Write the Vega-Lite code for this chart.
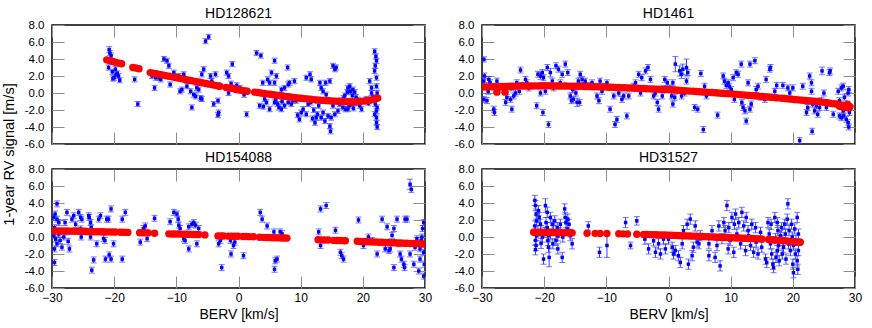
{
"$schema":"https://vega.github.io/schema/vega-lite/v6.json",
"padding":{"left":0,"top":6,"right":10,"bottom":5},
"bounds":"flush",
"columns":2,
"spacing":{"row":25,"column":57},
"config":{
 "view":{"stroke":"#000","strokeWidth":1.5},
 "axis":{"domain":false,"grid":false,"tickColor":"#8c8c8c","tickSize":-12,"tickWidth":1,"labelFont":"Liberation Sans","labelColor":"#000","titleFont":"Liberation Sans","titleFontSize":14,"titleFontWeight":"normal","titleColor":"#000","labelPadding":20,"labelFlush":false,"labelOverlap":false},
 "axisX":{"labelFontSize":12,"labelPadding":16},
 "axisY":{"labelFontSize":11.5},
 "title":{"font":"Liberation Sans","fontSize":14,"fontWeight":"normal","color":"#000","anchor":"middle","offset":-2}
},
"datasets":{
"b1":[{"x":-20.9,"y":3.0,"e":0.3},{"x":-20.8,"y":5.1,"e":0.35},{"x":-20.7,"y":4.7,"e":0.3},{"x":-20.5,"y":4.4,"e":0.3},{"x":-20.3,"y":2.5,"e":0.3},{"x":-20.2,"y":1.7,"e":0.3},{"x":-20.0,"y":1.8,"e":0.3},{"x":-19.8,"y":2.8,"e":0.3},{"x":-19.7,"y":2.2,"e":0.3},{"x":-19.5,"y":2.3,"e":0.3},{"x":-19.3,"y":2.0,"e":0.3},{"x":-19.1,"y":1.5,"e":0.3},
{"x":-16.7,"y":1.6,"e":0.3},{"x":-16.2,"y":-1.3,"e":0.3},{"x":-13.5,"y":0.6,"e":0.3},{"x":-13.9,"y":2.0,"e":0.3},{"x":-13.3,"y":1.8,"e":0.3},{"x":-12.5,"y":1.6,"e":0.3},
{"x":-12.8,"y":1.8,"e":0.3},{"x":-12.0,"y":4.0,"e":0.3},{"x":-11.5,"y":3.8,"e":0.3},{"x":-11.2,"y":3.2,"e":0.3},{"x":-11.0,"y":1.0,"e":0.3},{"x":-10.4,"y":2.4,"e":0.3},{"x":-9.6,"y":2.0,"e":0.3},{"x":-9.4,"y":0.2,"e":0.3},{"x":-9.1,"y":0.4,"e":0.3},{"x":-8.8,"y":2.2,"e":0.3},{"x":-8.3,"y":0.8,"e":0.3},{"x":-8.0,"y":1.4,"e":0.3},{"x":-7.7,"y":0.2,"e":0.3},{"x":-7.5,"y":-1.7,"e":0.3},{"x":-7.2,"y":-0.2,"e":0.3},{"x":-6.9,"y":-0.4,"e":0.3},{"x":-6.7,"y":0.6,"e":0.3},{"x":-6.4,"y":0.4,"e":0.3},{"x":-6.1,"y":-0.6,"e":0.3},{"x":-5.9,"y":-0.7,"e":0.3},{"x":-5.6,"y":2.8,"e":0.3},{"x":-5.9,"y":2.2,"e":0.3},{"x":-5.3,"y":6.1,"e":0.3},{"x":-4.8,"y":6.6,"e":0.3},{"x":-4.5,"y":2.0,"e":0.3},{"x":-4.3,"y":1.4,"e":0.3},{"x":-3.7,"y":2.2,"e":0.3},{"x":-4.0,"y":-1.3,"e":0.3},{"x":-3.3,"y":-0.9,"e":0.3},{"x":-3.2,"y":-2.3,"e":0.3},{"x":-3.3,"y":-2.6,"e":0.3},{"x":-1.9,"y":2.4,"e":0.3},{"x":-1.6,"y":2.0,"e":0.3},{"x":-1.6,"y":0.0,"e":0.3},{"x":-1.2,"y":1.1,"e":0.3},{"x":-1.0,"y":3.4,"e":0.3},{"x":-0.3,"y":0.9,"e":0.3},
{"x":0.2,"y":0.6,"e":0.3},{"x":0.9,"y":-0.2,"e":0.3},{"x":1.3,"y":-2.5,"e":0.3},{"x":2.9,"y":4.7,"e":0.3},{"x":3.6,"y":4.4,"e":0.3},{"x":5.8,"y":3.8,"e":0.3},{"x":5.3,"y":2.4,"e":0.3},{"x":4.7,"y":1.6,"e":0.3},{"x":3.9,"y":1.2,"e":0.3},{"x":5.0,"y":1.2,"e":0.3},{"x":5.8,"y":1.2,"e":0.3},{"x":6.1,"y":2.0,"e":0.3},{"x":7.9,"y":3.0,"e":0.3},{"x":8.0,"y":1.0,"e":0.3},{"x":8.2,"y":1.2,"e":0.3},{"x":9.0,"y":1.4,"e":0.3},{"x":6.9,"y":0.4,"e":0.3},{"x":7.4,"y":0.6,"e":0.3},{"x":3.4,"y":-1.5,"e":0.3},{"x":4.2,"y":-0.7,"e":0.3},{"x":4.5,"y":-1.1,"e":0.3},{"x":5.0,"y":-1.9,"e":0.3},{"x":5.8,"y":-1.1,"e":0.3},{"x":6.3,"y":-1.3,"e":0.3},{"x":6.5,"y":-1.7,"e":0.3},{"x":6.9,"y":-1.9,"e":0.3},{"x":7.4,"y":-1.5,"e":0.3},{"x":8.0,"y":-1.1,"e":0.3},{"x":8.5,"y":-1.3,"e":0.3},{"x":8.8,"y":-0.9,"e":0.3},{"x":9.3,"y":-0.9,"e":0.3},{"x":9.8,"y":-3.1,"e":0.3},{"x":10.1,"y":-2.3,"e":0.3},{"x":10.4,"y":-1.9,"e":0.3},{"x":10.9,"y":1.8,"e":0.3},{"x":11.5,"y":2.2,"e":0.3},{"x":11.7,"y":1.6,"e":0.3},{"x":10.9,"y":-2.5,"e":0.3},{"x":11.2,"y":-1.3,"e":0.3},{"x":11.6,"y":-1.1,"e":0.3},{"x":12.3,"y":-3.5,"e":0.3},{"x":12.7,"y":-2.5,"e":0.3},{"x":12.9,"y":-1.5,"e":0.3},{"x":13.1,"y":1.2,"e":0.3},{"x":13.3,"y":0.6,"e":0.3},{"x":13.6,"y":0.2,"e":0.3},{"x":13.6,"y":-2.3,"e":0.3},{"x":13.9,"y":-3.3,"e":0.3},{"x":14.0,"y":1.2,"e":0.3},{"x":14.1,"y":-0.2,"e":0.3},{"x":14.4,"y":-2.7,"e":0.3},{"x":14.7,"y":1.4,"e":0.3},{"x":14.7,"y":-3.9,"e":0.3},{"x":14.8,"y":-4.5,"e":0.3},{"x":14.9,"y":-2.9,"e":0.3},{"x":15.2,"y":3.2,"e":0.3},{"x":15.5,"y":2.8,"e":0.3},{"x":15.7,"y":3.0,"e":0.3},{"x":15.2,"y":-1.5,"e":0.3},{"x":15.5,"y":-2.5,"e":0.3},{"x":16.0,"y":-2.1,"e":0.3},{"x":16.3,"y":-1.3,"e":0.3},{"x":16.5,"y":-0.9,"e":0.3},{"x":16.8,"y":-1.7,"e":0.3},{"x":17.1,"y":-0.3,"e":0.3},{"x":17.2,"y":-1.9,"e":0.3},{"x":17.5,"y":0.1,"e":0.3},{"x":17.6,"y":0.6,"e":0.3},{"x":17.9,"y":0.8,"e":0.3},{"x":18.0,"y":0.2,"e":0.3},{"x":18.2,"y":-1.3,"e":0.3},{"x":18.3,"y":-0.3,"e":0.3},{"x":18.4,"y":0.4,"e":0.3},{"x":18.7,"y":0.1,"e":0.3},{"x":18.9,"y":-0.5,"e":0.3},{"x":18.6,"y":-1.1,"e":0.3},{"x":17.6,"y":-1.9,"e":0.3},{"x":19.5,"y":-1.5,"e":0.3},{"x":19.8,"y":-1.9,"e":0.3},{"x":20.6,"y":-0.7,"e":0.3},{"x":21.1,"y":1.4,"e":0.3},{"x":21.4,"y":0.6,"e":0.3},{"x":21.4,"y":0.0,"e":0.3},{"x":21.6,"y":-0.5,"e":0.3},{"x":21.9,"y":2.6,"e":0.3},{"x":21.9,"y":4.9,"e":0.3},{"x":22.1,"y":4.3,"e":0.3},{"x":22.2,"y":3.8,"e":0.3},{"x":22.0,"y":3.2,"e":0.3},{"x":22.2,"y":1.8,"e":0.3},{"x":22.2,"y":0.8,"e":0.3},{"x":22.3,"y":0.0,"e":0.3},{"x":22.0,"y":-1.3,"e":0.3},{"x":22.2,"y":-2.1,"e":0.3},{"x":22.2,"y":-2.9,"e":0.3},{"x":22.2,"y":-3.5,"e":0.3},{"x":22.3,"y":-4.0,"e":0.3},{"x":22.3,"y":-1.7,"e":0.3},{"x":21.9,"y":-2.5,"e":0.3},
{"x":17.0,"y":-1.0,"e":0.3},{"x":17.8,"y":-1.5,"e":0.3},{"x":18.5,"y":-1.8,"e":0.3},{"x":19.0,"y":-1.2,"e":0.3},{"x":16.9,"y":-0.6,"e":0.3},{"x":19.2,"y":-0.8,"e":0.3},{"x":20.2,"y":-0.9,"e":0.3},{"x":20.9,"y":-1.2,"e":0.3},{"x":12.1,"y":-2.0,"e":0.3},{"x":12.5,"y":-2.9,"e":0.3},{"x":13.3,"y":-2.9,"e":0.3},{"x":11.9,"y":-3.0,"e":0.3},{"x":9.5,"y":-2.6,"e":0.3},{"x":6.0,"y":-0.8,"e":0.3},{"x":7.0,"y":-1.0,"e":0.3},{"x":4.0,"y":-1.6,"e":0.3}],
"r1":[{"x":-21.2,"y":3.9},{"x":-20.7,"y":3.8},{"x":-20.2,"y":3.7},{"x":-19.7,"y":3.6},{"x":-19.2,"y":3.5},{"x":-18.8,"y":3.45},{"x":-17.0,"y":3.0},{"x":-16.5,"y":2.95},{"x":-16.0,"y":2.85},
{"x":-14.2,"y":2.4},{"x":-13.7,"y":2.33},{"x":-13.2,"y":2.26},{"x":-12.7,"y":2.19},{"x":-12.2,"y":2.11},{"x":-11.7,"y":2.04},{"x":-11.2,"y":1.97},{"x":-10.7,"y":1.9},{"x":-10.2,"y":1.83},{"x":-9.7,"y":1.76},{"x":-9.2,"y":1.69},{"x":-8.7,"y":1.61},{"x":-8.2,"y":1.54},{"x":-7.7,"y":1.47},{"x":-7.2,"y":1.4},{"x":-6.7,"y":1.33},{"x":-6.2,"y":1.26},{"x":-5.7,"y":1.19},{"x":-5.2,"y":1.11},{"x":-4.7,"y":1.04},{"x":-4.2,"y":0.97},{"x":-3.7,"y":0.9},{"x":-3.2,"y":0.83},{"x":-3.0,"y":0.8},
{"x":-2.0,"y":0.65},{"x":-1.5,"y":0.6},{"x":-1.0,"y":0.55},{"x":-0.8,"y":0.52},{"x":-0.4,"y":0.42},{"x":0.1,"y":0.36},{"x":0.6,"y":0.3},{"x":1.1,"y":0.24},{"x":1.4,"y":0.2},
{"x":2.6,"y":0.1},{"x":3.1,"y":0.05},{"x":3.6,"y":0.0},{"x":4.1,"y":-0.05},{"x":4.6,"y":-0.1},{"x":5.1,"y":-0.15},{"x":5.6,"y":-0.2},{"x":6.1,"y":-0.25},{"x":6.6,"y":-0.3},{"x":7.1,"y":-0.35},{"x":7.6,"y":-0.4},{"x":8.1,"y":-0.45},{"x":8.6,"y":-0.5},{"x":9.1,"y":-0.54},{"x":9.6,"y":-0.58},{"x":10.1,"y":-0.62},{"x":10.6,"y":-0.66},{"x":11.1,"y":-0.7},{"x":11.6,"y":-0.74},{"x":12.1,"y":-0.78},{"x":12.6,"y":-0.81},{"x":13.1,"y":-0.84},{"x":13.6,"y":-0.87},{"x":14.1,"y":-0.9},{"x":14.6,"y":-0.92},{"x":15.1,"y":-0.94},{"x":15.6,"y":-0.96},{"x":16.1,"y":-0.98},{"x":16.6,"y":-1.0},{"x":17.1,"y":-1.01},{"x":17.6,"y":-1.02},{"x":18.1,"y":-1.02},{"x":18.6,"y":-1.02},{"x":19.1,"y":-1.01},{"x":19.6,"y":-0.99},{"x":20.1,"y":-0.96},{"x":20.6,"y":-0.92},{"x":21.1,"y":-0.86},{"x":21.6,"y":-0.78},{"x":22.0,"y":-0.7},{"x":22.4,"y":-0.6}],
"b2":[{"x":-29.7,"y":3.96,"e":0.3},{"x":-29.6,"y":2.0,"e":0.35},{"x":-29.7,"y":1.4,"e":0.35},{"x":-29.7,"y":-0.75,"e":0.35},{"x":-29.2,"y":-0.9,"e":0.35},{"x":-28.9,"y":1.6,"e":0.35},{"x":-28.7,"y":1.2,"e":0.35},{"x":-29.0,"y":0.2,"e":0.35},{"x":-28.1,"y":-1.9,"e":0.35},{"x":-28.0,"y":-2.3,"e":0.35},{"x":-27.6,"y":1.4,"e":0.35},{"x":-27.3,"y":0.6,"e":0.35},{"x":-26.2,"y":-1.1,"e":0.35},{"x":-26.0,"y":-0.5,"e":0.35},{"x":-25.4,"y":-0.75,"e":0.35},{"x":-25.3,"y":0.6,"e":0.35},{"x":-25.2,"y":-1.9,"e":0.35},{"x":-24.9,"y":-0.35,"e":0.35},{"x":-24.6,"y":0.0,"e":0.35},{"x":-24.4,"y":1.2,"e":0.35},{"x":-24.0,"y":0.2,"e":0.35},{"x":-23.8,"y":2.7,"e":0.35},{"x":-23.6,"y":0.9,"e":0.35},{"x":-23.0,"y":1.6,"e":0.35},{"x":-22.8,"y":1.2,"e":0.35},{"x":-22.5,"y":0.6,"e":0.35},
{"x":-21.2,"y":-1.5,"e":0.35},{"x":-21.0,"y":2.2,"e":0.35},{"x":-20.6,"y":2.0,"e":0.4},{"x":-20.6,"y":0.0,"e":0.35},{"x":-20.3,"y":2.4,"e":0.35},{"x":-20.2,"y":-2.3,"e":0.35},{"x":-20.1,"y":1.8,"e":0.35},{"x":-19.8,"y":0.2,"e":0.35},{"x":-19.5,"y":3.0,"e":0.35},{"x":-19.3,"y":-3.7,"e":0.35},{"x":-19.0,"y":2.4,"e":0.5},{"x":-18.7,"y":1.4,"e":0.35},{"x":-18.5,"y":0.6,"e":0.35},{"x":-18.1,"y":3.2,"e":0.35},{"x":-17.7,"y":2.8,"e":0.35},{"x":-17.4,"y":1.2,"e":0.35},{"x":-17.1,"y":2.2,"e":0.35},{"x":-16.6,"y":3.4,"e":0.35},{"x":-16.2,"y":2.4,"e":0.35},{"x":-15.8,"y":-0.35,"e":0.35},{"x":-15.6,"y":-0.9,"e":0.35},{"x":-15.4,"y":0.4,"e":0.35},{"x":-15.3,"y":-0.75,"e":0.35},{"x":-14.9,"y":0.0,"e":0.35},{"x":-14.7,"y":-1.1,"e":0.5},{"x":-14.3,"y":-1.1,"e":0.35},{"x":-14.5,"y":1.4,"e":0.35},{"x":-14.2,"y":2.2,"e":0.35},{"x":-13.9,"y":1.6,"e":0.35},{"x":-13.6,"y":0.9,"e":0.35},{"x":-13.4,"y":1.4,"e":0.35},{"x":-12.8,"y":0.9,"e":0.35},{"x":-12.3,"y":1.2,"e":0.35},
{"x":-11.5,"y":-0.35,"e":0.35},{"x":-11.2,"y":-0.9,"e":0.35},{"x":-11.0,"y":1.4,"e":0.35},{"x":-10.7,"y":0.2,"e":0.35},{"x":-10.2,"y":0.8,"e":0.35},{"x":-9.9,"y":1.2,"e":0.35},{"x":-9.4,"y":-1.9,"e":0.35},{"x":-8.8,"y":-0.35,"e":0.35},{"x":-8.6,"y":-3.7,"e":0.35},{"x":-8.3,"y":-3.1,"e":0.35},{"x":-8.0,"y":0.0,"e":0.35},{"x":-7.5,"y":-0.75,"e":0.35},{"x":-7.2,"y":-0.35,"e":0.35},{"x":-6.7,"y":-2.7,"e":0.35},{"x":-6.4,"y":-0.35,"e":0.35},{"x":-5.6,"y":0.8,"e":0.35},{"x":-5.3,"y":1.2,"e":0.35},{"x":-4.8,"y":2.2,"e":0.35},{"x":-4.5,"y":0.0,"e":0.35},{"x":-4.3,"y":1.8,"e":0.35},{"x":-3.7,"y":2.6,"e":0.35},{"x":-3.3,"y":3.0,"e":0.35},{"x":-2.9,"y":1.6,"e":0.35},{"x":-2.4,"y":-0.35,"e":0.35},{"x":-2.1,"y":0.0,"e":0.35},{"x":-1.8,"y":-1.1,"e":0.35},{"x":-1.6,"y":-1.9,"e":0.35},{"x":-1.0,"y":-0.35,"e":0.35},{"x":-0.8,"y":0.5,"e":0.35},{"x":-0.6,"y":1.6,"e":0.35},{"x":-0.2,"y":1.2,"e":0.35},
{"x":1.1,"y":3.4,"e":0.9},{"x":0.7,"y":1.2,"e":0.35},{"x":1.8,"y":2.6,"e":0.6},{"x":2.1,"y":2.2,"e":0.5},{"x":2.3,"y":2.8,"e":0.6},{"x":2.9,"y":3.0,"e":1.0},{"x":2.9,"y":1.4,"e":0.35},{"x":3.1,"y":2.4,"e":0.35},{"x":1.0,"y":-0.5,"e":0.35},{"x":2.1,"y":-0.35,"e":0.35},{"x":0.2,"y":0.6,"e":0.35},{"x":0.5,"y":-0.35,"e":0.35},{"x":2.6,"y":0.0,"e":0.35},{"x":0.7,"y":-1.3,"e":0.35},
{"x":5.2,"y":2.3,"e":0.35},{"x":5.8,"y":0.8,"e":0.35},{"x":6.1,"y":-0.35,"e":0.35},{"x":4.2,"y":-1.7,"e":0.35},{"x":4.7,"y":-1.9,"e":0.35},{"x":5.6,"y":-4.3,"e":0.35},{"x":7.9,"y":-2.6,"e":0.35},{"x":8.8,"y":2.0,"e":0.35},{"x":9.0,"y":1.4,"e":0.35},{"x":9.3,"y":0.9,"e":0.35},{"x":9.6,"y":1.2,"e":0.35},{"x":9.8,"y":0.8,"e":0.35},{"x":10.1,"y":0.4,"e":0.35},{"x":10.4,"y":1.8,"e":0.35},{"x":10.6,"y":-0.75,"e":0.35},{"x":10.9,"y":2.4,"e":0.35},{"x":11.2,"y":2.2,"e":0.35},{"x":11.7,"y":3.4,"e":0.35},{"x":11.8,"y":-1.1,"e":0.35},{"x":12.0,"y":-1.7,"e":0.35},{"x":12.3,"y":-2.1,"e":0.35},{"x":12.5,"y":-3.3,"e":0.35},{"x":12.8,"y":1.2,"e":0.35},{"x":13.1,"y":3.4,"e":0.35},{"x":13.1,"y":-1.9,"e":0.35},{"x":13.3,"y":-1.3,"e":0.35},{"x":13.9,"y":3.8,"e":0.35},{"x":14.1,"y":0.4,"e":0.35},{"x":14.4,"y":0.8,"e":0.35},{"x":14.9,"y":-0.5,"e":0.35},{"x":15.5,"y":-0.75,"e":0.35},{"x":15.7,"y":1.6,"e":0.35},{"x":16.3,"y":2.8,"e":0.35},{"x":16.4,"y":3.0,"e":0.35},{"x":17.1,"y":0.2,"e":0.35},{"x":17.4,"y":0.9,"e":0.35},{"x":18.4,"y":0.9,"e":0.35},{"x":19.2,"y":0.6,"e":0.35},{"x":19.5,"y":0.0,"e":0.35},{"x":20.0,"y":0.6,"e":0.35},{"x":21.1,"y":-5.6,"e":0.35},{"x":21.6,"y":0.8,"e":0.35},{"x":21.9,"y":-0.9,"e":0.35},{"x":22.2,"y":-2.3,"e":0.35},{"x":22.4,"y":-1.7,"e":0.35},{"x":22.7,"y":2.0,"e":0.35},{"x":23.0,"y":1.2,"e":0.35},{"x":23.0,"y":0.2,"e":0.35},{"x":23.1,"y":-4.5,"e":0.35},{"x":23.2,"y":-1.3,"e":0.35},{"x":23.5,"y":-2.1,"e":0.35},{"x":23.8,"y":-1.5,"e":0.35},{"x":24.0,"y":-2.5,"e":0.35},{"x":24.3,"y":-1.7,"e":0.35},{"x":24.6,"y":-0.9,"e":0.35},{"x":24.7,"y":2.6,"e":0.45},{"x":25.0,"y":0.0,"e":0.35},{"x":25.4,"y":-1.7,"e":0.35},{"x":25.9,"y":2.4,"e":0.35},{"x":26.5,"y":-2.5,"e":0.35},{"x":27.3,"y":0.2,"e":0.35},{"x":27.5,"y":-0.9,"e":0.35},{"x":27.8,"y":0.6,"e":0.35},{"x":28.1,"y":-2.1,"e":0.35},{"x":28.2,"y":-2.7,"e":0.35},{"x":28.3,"y":-0.5,"e":0.35},{"x":28.6,"y":-3.1,"e":0.35},{"x":28.8,"y":-1.3,"e":0.35},{"x":28.9,"y":0.0,"e":0.35},{"x":28.9,"y":-3.5,"e":0.35},{"x":29.0,"y":0.4,"e":0.35},{"x":29.1,"y":-2.3,"e":0.35},{"x":29.0,"y":-4.0,"e":0.35},{"x":28.1,"y":0.8,"e":0.35},{"x":27.8,"y":-2.9,"e":0.35},{"x":27.5,"y":-2.7,"e":0.35},{"x":26.0,"y":2.6,"e":0.35}],
"r2":[{"x":-30,"y":0.7},{"x":-29.5,"y":0.71},{"x":-29,"y":0.72},{"x":-28.5,"y":0.73},{"x":-28,"y":0.74},{"x":-27.5,"y":0.75},{"x":-27,"y":0.76},{"x":-26.5,"y":0.77},{"x":-26,"y":0.78},{"x":-25.5,"y":0.79},{"x":-25,"y":0.8},{"x":-24.5,"y":0.805},{"x":-24,"y":0.81},{"x":-23.5,"y":0.815},{"x":-23,"y":0.82},{"x":-22.5,"y":0.825},{"x":-22,"y":0.83},{"x":-21.5,"y":0.835},{"x":-21,"y":0.84},{"x":-20.5,"y":0.845},{"x":-20,"y":0.85},{"x":-19.5,"y":0.845},{"x":-19,"y":0.84},{"x":-18.5,"y":0.835},{"x":-18,"y":0.83},{"x":-17.5,"y":0.825},{"x":-17,"y":0.82},{"x":-16.5,"y":0.815},{"x":-16,"y":0.81},{"x":-15.5,"y":0.805},{"x":-15,"y":0.8},{"x":-14.5,"y":0.79},{"x":-14,"y":0.78},{"x":-13.5,"y":0.77},{"x":-13,"y":0.76},{"x":-12.5,"y":0.75},{"x":-12,"y":0.74},{"x":-11.5,"y":0.73},{"x":-11,"y":0.72},{"x":-10.5,"y":0.71},{"x":-10,"y":0.7},{"x":-9.5,"y":0.685},{"x":-9,"y":0.67},{"x":-8.5,"y":0.655},{"x":-8,"y":0.64},{"x":-7.5,"y":0.625},{"x":-7,"y":0.61},{"x":-6.5,"y":0.595},{"x":-6,"y":0.58},{"x":-5.5,"y":0.565},{"x":-5,"y":0.55},{"x":-4.5,"y":0.535},{"x":-4,"y":0.52},{"x":-3.5,"y":0.505},{"x":-3,"y":0.49},{"x":-2.5,"y":0.475},{"x":-2,"y":0.46},{"x":-1.5,"y":0.445},{"x":-1,"y":0.43},{"x":-0.5,"y":0.415},{"x":0,"y":0.4},{"x":0.5,"y":0.375},{"x":1,"y":0.35},{"x":1.5,"y":0.325},{"x":2,"y":0.3},{"x":2.5,"y":0.275},{"x":3,"y":0.25},{"x":3.5,"y":0.225},{"x":4,"y":0.2},{"x":4.5,"y":0.175},{"x":5,"y":0.15},{"x":5.5,"y":0.125},{"x":6,"y":0.1},{"x":6.5,"y":0.075},{"x":7,"y":0.05},{"x":7.5,"y":0.025},{"x":8,"y":0.0},{"x":8.5,"y":-0.025},{"x":9,"y":-0.05},{"x":9.5,"y":-0.075},{"x":10,"y":-0.1},{"x":10.5,"y":-0.13},{"x":11,"y":-0.16},{"x":11.5,"y":-0.19},{"x":12,"y":-0.22},{"x":12.5,"y":-0.25},{"x":13,"y":-0.28},{"x":13.5,"y":-0.31},{"x":14,"y":-0.34},{"x":14.5,"y":-0.37},{"x":15,"y":-0.4},{"x":15.5,"y":-0.435},{"x":16,"y":-0.47},{"x":16.5,"y":-0.505},{"x":17,"y":-0.54},{"x":17.5,"y":-0.575},{"x":18.2,"y":-0.62},{"x":18.7,"y":-0.655},{"x":19.2,"y":-0.69},{"x":19.7,"y":-0.725},{"x":20.2,"y":-0.76},{"x":20.5,"y":-0.78},{"x":21.0,"y":-0.81},{"x":21.5,"y":-0.84},{"x":22,"y":-0.875},{"x":22.5,"y":-0.91},{"x":23,"y":-0.94},{"x":23.5,"y":-0.97},{"x":24,"y":-1.0},{"x":24.5,"y":-1.05},{"x":25,"y":-1.1},{"x":25.5,"y":-1.15},{"x":26,"y":-1.2},{"x":26.5,"y":-1.25},{"x":27,"y":-1.3},{"x":27.5,"y":-1.37},{"x":28,"y":-1.44},{"x":28.5,"y":-1.5},{"x":29,"y":-1.57},{"x":29.2,"y":-1.6},{"x":27.5,"y":-1.55},{"x":28,"y":-1.65},{"x":28.5,"y":-1.7},{"x":29,"y":-1.75},{"x":28.8,"y":-1.35},{"x":-27.6,"y":0.1},{"x":-26.3,"y":0.1}],
"b3":[{"x":-29.2,"y":3.9,"e":0.35},{"x":-29.5,"y":2.7,"e":0.35},{"x":-29.7,"y":2.3,"e":0.35},{"x":-29.2,"y":2.1,"e":0.35},{"x":-28.9,"y":1.7,"e":0.35},{"x":-29.6,"y":1.1,"e":0.35},{"x":-29.7,"y":0.15,"e":0.35},{"x":-29.4,"y":-0.25,"e":0.35},{"x":-29.2,"y":-0.8,"e":0.35},{"x":-29.6,"y":-1.4,"e":0.35},{"x":-29.6,"y":-3.0,"e":0.35},{"x":-28.9,"y":0.35,"e":0.35},{"x":-28.7,"y":-0.4,"e":0.35},{"x":-28.4,"y":-1.2,"e":0.35},{"x":-28.1,"y":0.0,"e":0.35},{"x":-27.9,"y":1.7,"e":0.35},{"x":-27.6,"y":2.9,"e":0.35},{"x":-27.6,"y":0.6,"e":0.35},{"x":-27.4,"y":-0.5,"e":0.35},{"x":-27.2,"y":-1.4,"e":0.35},{"x":-26.8,"y":2.1,"e":0.35},{"x":-26.5,"y":2.5,"e":0.35},{"x":-26.2,"y":1.5,"e":0.35},{"x":-25.7,"y":2.9,"e":0.35},{"x":-25.4,"y":2.3,"e":0.35},{"x":-25.3,"y":0.0,"e":0.35},{"x":-25.2,"y":2.1,"e":0.35},{"x":-25.4,"y":0.95,"e":0.35},{"x":-24.1,"y":2.5,"e":0.35},{"x":-24.0,"y":2.3,"e":0.35},{"x":-23.8,"y":1.7,"e":0.35},{"x":-23.7,"y":1.1,"e":0.35},{"x":-23.8,"y":0.0,"e":0.35},{"x":-23.3,"y":-2.7,"e":0.35},{"x":-23.6,"y":-3.9,"e":0.35},{"x":-22.8,"y":-0.8,"e":0.35},{"x":-22.5,"y":2.1,"e":0.35},{"x":-22.2,"y":2.5,"e":0.35},{"x":-21.7,"y":-0.2,"e":0.35},{"x":-21.5,"y":-0.4,"e":0.35},{"x":-21.4,"y":-2.6,"e":0.35},{"x":-21.2,"y":2.1,"e":0.35},{"x":-20.9,"y":2.1,"e":0.35},{"x":-20.8,"y":-2.1,"e":0.35},{"x":-20.5,"y":3.3,"e":0.35},{"x":-20.5,"y":-2.6,"e":0.35},{"x":-20.1,"y":-0.8,"e":0.35},{"x":-18.7,"y":-2.6,"e":0.35},{"x":-18.7,"y":2.1,"e":0.35},{"x":-18.2,"y":2.9,"e":0.35},
{"x":-15.8,"y":-0.6,"e":0.35},{"x":-15.3,"y":1.0,"e":0.35},{"x":-15.0,"y":1.3,"e":0.35},{"x":-14.7,"y":-0.2,"e":0.35},{"x":-13.5,"y":2.2,"e":0.35},
{"x":-11.0,"y":1.8,"e":0.35},{"x":-10.4,"y":2.9,"e":0.35},{"x":-9.9,"y":2.7,"e":0.35},{"x":-9.7,"y":2.1,"e":0.35},{"x":-9.6,"y":1.4,"e":0.35},{"x":-9.4,"y":1.0,"e":0.35},{"x":-8.8,"y":-0.2,"e":0.35},{"x":-8.6,"y":-0.4,"e":0.35},{"x":-8.0,"y":-1.4,"e":0.35},{"x":-7.5,"y":1.5,"e":0.35},{"x":-7.2,"y":1.7,"e":0.35},{"x":-6.9,"y":1.4,"e":0.35},{"x":-6.7,"y":-0.8,"e":0.35},{"x":-6.4,"y":1.0,"e":0.35},{"x":-8.0,"y":1.2,"e":0.35},
{"x":-3.2,"y":-0.8,"e":0.35},{"x":-2.9,"y":-0.4,"e":0.35},{"x":-2.7,"y":-3.6,"e":0.35},{"x":-1.3,"y":-0.4,"e":0.35},{"x":-1.2,"y":-2.0,"e":0.35},{"x":-0.8,"y":-1.0,"e":0.35},{"x":-0.6,"y":-0.6,"e":0.35},{"x":0.8,"y":-2.2,"e":0.35},{"x":3.5,"y":2.9,"e":0.35},{"x":3.8,"y":2.1,"e":0.35},{"x":4.6,"y":1.3,"e":0.35},{"x":5.7,"y":0.6,"e":0.35},{"x":5.8,"y":-3.8,"e":0.35},{"x":5.9,"y":-2.8,"e":0.35},{"x":6.2,"y":-2.6,"e":0.35},{"x":6.7,"y":0.6,"e":0.35},{"x":7.0,"y":0.4,"e":0.35},
{"x":12.9,"y":0.6,"e":0.35},{"x":13.2,"y":3.3,"e":0.35},{"x":14.1,"y":3.7,"e":0.35},{"x":13.2,"y":-1.0,"e":0.35},{"x":15.6,"y":0.8,"e":0.35},{"x":16.4,"y":-1.8,"e":0.35},{"x":16.9,"y":-2.6,"e":0.35},{"x":16.6,"y":-2.2,"e":0.35},
{"x":19.3,"y":2.0,"e":0.35},{"x":20.1,"y":-1.0,"e":0.35},{"x":20.9,"y":0.0,"e":0.35},{"x":21.5,"y":-0.4,"e":0.35},{"x":22.3,"y":-2.0,"e":0.35},{"x":23.1,"y":2.1,"e":0.35},{"x":23.6,"y":-1.4,"e":0.35},{"x":23.9,"y":1.2,"e":0.35},{"x":24.2,"y":-1.6,"e":0.35},{"x":24.4,"y":-1.4,"e":0.35},{"x":24.7,"y":0.2,"e":0.35},{"x":25.0,"y":1.0,"e":0.35},{"x":25.0,"y":-3.6,"e":0.35},{"x":25.5,"y":2.1,"e":0.35},{"x":25.8,"y":-0.8,"e":0.35},{"x":26.0,"y":-2.0,"e":0.35},{"x":26.2,"y":-2.6,"e":0.35},{"x":26.6,"y":-3.2,"e":0.35},{"x":26.7,"y":-3.6,"e":0.35},{"x":26.8,"y":2.1,"e":0.35},{"x":27.1,"y":2.1,"e":0.35},{"x":27.6,"y":6.2,"e":0.6},{"x":27.8,"y":5.6,"e":0.35},{"x":28.2,"y":-3.2,"e":0.35},{"x":28.4,"y":-1.2,"e":0.35},{"x":28.7,"y":-0.2,"e":0.35},{"x":29.0,"y":-4.0,"e":0.35},{"x":29.2,"y":-2.6,"e":0.35},{"x":29.4,"y":-0.4,"e":0.35},{"x":29.5,"y":0.0,"e":0.35},{"x":29.6,"y":1.0,"e":0.35},{"x":29.8,"y":1.7,"e":0.35},{"x":29.8,"y":-1.8,"e":0.35},{"x":29.8,"y":-4.6,"e":0.35},{"x":29.9,"y":-3.2,"e":0.35},{"x":29.2,"y":-1.4,"e":0.35},{"x":27.6,"y":-2.0,"e":0.35}],
"r3":[{"x":-30,"y":0.72},{"x":-29.5,"y":0.72},{"x":-29,"y":0.71},{"x":-28.5,"y":0.71},{"x":-28,"y":0.7},{"x":-27.5,"y":0.7},{"x":-27,"y":0.69},{"x":-26.5,"y":0.69},{"x":-26,"y":0.68},{"x":-25.5,"y":0.68},{"x":-25,"y":0.67},{"x":-24.6,"y":0.67},{"x":-24.3,"y":0.63},{"x":-23.8,"y":0.63},{"x":-23.3,"y":0.62},{"x":-22.8,"y":0.62},{"x":-22.3,"y":0.61},{"x":-21.8,"y":0.61},{"x":-21.3,"y":0.6},{"x":-20.8,"y":0.6},{"x":-20.3,"y":0.59},{"x":-19.8,"y":0.59},{"x":-19.0,"y":0.55},{"x":-18.5,"y":0.55},{"x":-18.0,"y":0.54},{"x":-17.8,"y":0.54},{"x":-15.9,"y":0.5},{"x":-15.4,"y":0.5},{"x":-14.9,"y":0.49},{"x":-14.5,"y":0.49},{"x":-13.5,"y":0.45},{"x":-11.2,"y":0.37},{"x":-10.7,"y":0.36},{"x":-10.2,"y":0.35},{"x":-9.7,"y":0.35},{"x":-9.2,"y":0.34},{"x":-8.7,"y":0.33},{"x":-8.2,"y":0.32},{"x":-7.7,"y":0.31},{"x":-7.2,"y":0.3},{"x":-6.7,"y":0.29},{"x":-6.4,"y":0.28},{"x":-5.4,"y":0.25},{"x":-3.3,"y":0.12},{"x":-2.8,"y":0.11},{"x":-2.4,"y":0.11},{"x":-1.6,"y":0.1},{"x":-1.1,"y":0.09},{"x":-0.6,"y":0.08},{"x":-0.1,"y":0.08},{"x":0.7,"y":0.05},{"x":1.2,"y":0.05},{"x":1.7,"y":0.04},{"x":2.4,"y":0.03},{"x":3.4,"y":-0.03},{"x":3.9,"y":-0.04},{"x":4.4,"y":-0.05},{"x":4.9,"y":-0.06},{"x":5.4,"y":-0.08},{"x":5.9,"y":-0.09},{"x":6.4,"y":-0.1},{"x":6.9,"y":-0.11},{"x":7.4,"y":-0.12},{"x":7.8,"y":-0.13},{"x":12.8,"y":-0.33},{"x":13.3,"y":-0.34},{"x":13.8,"y":-0.35},{"x":14.4,"y":-0.36},{"x":15.3,"y":-0.4},{"x":15.8,"y":-0.41},{"x":16.3,"y":-0.42},{"x":16.8,"y":-0.43},{"x":17.2,"y":-0.44},{"x":19.1,"y":-0.5},{"x":19.6,"y":-0.52},{"x":20.1,"y":-0.53},{"x":20.6,"y":-0.55},{"x":21.1,"y":-0.56},{"x":21.6,"y":-0.58},{"x":22.1,"y":-0.59},{"x":22.6,"y":-0.61},{"x":23.1,"y":-0.62},{"x":23.6,"y":-0.64},{"x":24.1,"y":-0.65},{"x":24.6,"y":-0.67},{"x":25.1,"y":-0.68},{"x":25.6,"y":-0.7},{"x":26.1,"y":-0.71},{"x":26.6,"y":-0.73},{"x":27.1,"y":-0.74},{"x":27.6,"y":-0.76},{"x":28.1,"y":-0.77},{"x":28.6,"y":-0.79},{"x":29.1,"y":-0.8},{"x":29.6,"y":-0.82},{"x":30,"y":-0.83}],
"b4":[{"x":-21.5,"y":4.3,"e":0.6},{"x":-21.4,"y":3.7,"e":0.6},{"x":-21.3,"y":2.7,"e":0.6},{"x":-21.2,"y":1.9,"e":0.6},{"x":-21.5,"y":1.3,"e":0.6},{"x":-21.4,"y":0.75,"e":0.6},{"x":-21.2,"y":0.15,"e":0.6},{"x":-21.4,"y":-0.4,"e":0.6},{"x":-21.3,"y":-1.0,"e":0.6},{"x":-21.4,"y":-1.5,"e":0.6},{"x":-20.9,"y":3.1,"e":0.6},{"x":-20.8,"y":2.3,"e":0.6},{"x":-20.6,"y":1.5,"e":0.6},{"x":-20.5,"y":0.75,"e":0.6},{"x":-20.3,"y":0.0,"e":0.6},{"x":-20.5,"y":-0.75,"e":0.6},{"x":-20.1,"y":-2.6,"e":0.6},{"x":-19.8,"y":3.7,"e":0.8},{"x":-19.7,"y":1.7,"e":0.6},{"x":-19.5,"y":1.1,"e":0.6},{"x":-19.4,"y":-0.4,"e":0.6},{"x":-19.3,"y":-1.2,"e":0.6},{"x":-19.2,"y":-2.4,"e":1.1},{"x":-19.0,"y":2.3,"e":0.6},{"x":-19.0,"y":0.35,"e":0.6},{"x":-18.7,"y":1.5,"e":0.6},{"x":-18.6,"y":-0.8,"e":0.6},{"x":-18.5,"y":0.75,"e":0.6},{"x":-18.3,"y":1.9,"e":0.6},{"x":-18.1,"y":-0.4,"e":0.6},{"x":-17.9,"y":1.1,"e":0.6},{"x":-17.8,"y":-1.4,"e":0.6},{"x":-17.6,"y":0.55,"e":0.6},{"x":-17.4,"y":1.5,"e":0.6},{"x":-17.1,"y":-2.4,"e":0.6},{"x":-17.0,"y":0.0,"e":0.6},{"x":-16.7,"y":3.3,"e":0.6},{"x":-16.6,"y":2.3,"e":0.6},{"x":-16.5,"y":1.7,"e":0.6},{"x":-16.3,"y":0.95,"e":0.6},{"x":-16.2,"y":2.1,"e":0.6},{"x":-16.0,"y":1.5,"e":0.6},{"x":-15.8,"y":0.15,"e":0.6},{"x":-15.5,"y":-0.8,"e":0.6},{"x":-21.0,"y":0.75,"e":0.6},{"x":-19.9,"y":0.55,"e":0.6},{"x":-19.5,"y":2.9,"e":0.6},{"x":-19.3,"y":0.15,"e":0.6},{"x":-17.8,"y":0.15,"e":0.6},
{"x":-12.9,"y":1.3,"e":0.5},{"x":-11.1,"y":-1.8,"e":0.6},{"x":-9.9,"y":-1.0,"e":1.4},{"x":-6.9,"y":1.7,"e":0.6},{"x":-6.1,"y":-1.0,"e":0.4},{"x":-5.1,"y":1.9,"e":0.5},{"x":-3.8,"y":-0.25,"e":0.6},{"x":-3.2,"y":-1.4,"e":0.6},{"x":-2.4,"y":-0.45,"e":0.6},{"x":-2.1,"y":-1.8,"e":0.6},{"x":-1.6,"y":-0.8,"e":0.6},{"x":-1.3,"y":-2.0,"e":0.6},{"x":-0.8,"y":-0.25,"e":0.6},{"x":-0.5,"y":-1.4,"e":0.6},{"x":0.0,"y":-0.25,"e":0.6},{"x":0.6,"y":-1.2,"e":0.6},{"x":0.8,"y":-2.0,"e":0.6},{"x":1.1,"y":-1.6,"e":0.6},{"x":1.6,"y":-2.2,"e":0.6},{"x":1.9,"y":-3.0,"e":0.6},{"x":2.2,"y":-0.8,"e":0.6},{"x":2.4,"y":0.75,"e":0.6},{"x":3.0,"y":1.5,"e":0.6},{"x":3.2,"y":-3.2,"e":0.6},{"x":3.5,"y":2.1,"e":0.6},{"x":3.8,"y":-2.2,"e":0.6},{"x":4.0,"y":-1.2,"e":0.6},{"x":4.3,"y":1.3,"e":0.6},{"x":4.6,"y":-0.6,"e":0.6},{"x":4.9,"y":-0.8,"e":0.6},{"x":5.1,"y":0.15,"e":0.6},
{"x":6.5,"y":-0.8,"e":0.6},{"x":6.5,"y":-2.2,"e":0.6},{"x":7.0,"y":0.75,"e":0.6},{"x":7.5,"y":-2.4,"e":0.6},{"x":7.8,"y":-1.0,"e":0.6},{"x":8.1,"y":1.3,"e":0.6},{"x":8.3,"y":-3.4,"e":0.6},{"x":8.6,"y":-0.2,"e":0.6},{"x":8.9,"y":1.7,"e":0.6},{"x":9.1,"y":0.75,"e":0.6},{"x":9.4,"y":3.7,"e":0.6},{"x":9.6,"y":-1.4,"e":0.6},{"x":9.7,"y":1.1,"e":0.6},{"x":9.9,"y":-0.4,"e":0.6},{"x":10.2,"y":2.3,"e":0.6},{"x":10.5,"y":-1.8,"e":0.6},{"x":10.6,"y":1.5,"e":0.6},{"x":10.8,"y":2.7,"e":0.6},{"x":11.0,"y":0.35,"e":0.6},{"x":11.3,"y":1.7,"e":0.6},{"x":11.6,"y":-0.8,"e":0.6},{"x":11.8,"y":2.9,"e":0.6},{"x":12.1,"y":1.3,"e":0.6},{"x":12.4,"y":-1.6,"e":0.6},{"x":12.5,"y":2.3,"e":0.6},{"x":12.8,"y":0.75,"e":0.6},{"x":12.9,"y":0.15,"e":0.6},{"x":13.2,"y":-1.0,"e":0.6},{"x":13.4,"y":1.5,"e":0.6},{"x":13.7,"y":-1.8,"e":0.6},{"x":14.0,"y":1.1,"e":0.6},{"x":14.1,"y":-0.6,"e":0.6},{"x":14.4,"y":-2.0,"e":0.6},{"x":14.8,"y":0.55,"e":0.6},{"x":15.0,"y":-1.2,"e":0.6},{"x":15.6,"y":-2.6,"e":0.6},{"x":15.8,"y":-3.0,"e":0.6},{"x":16.0,"y":1.7,"e":0.6},{"x":16.2,"y":0.35,"e":0.6},{"x":16.4,"y":-0.8,"e":0.6},{"x":16.5,"y":1.5,"e":0.6},{"x":16.6,"y":-2.0,"e":0.6},{"x":16.8,"y":-3.2,"e":0.6},{"x":16.9,"y":-3.6,"e":0.6},{"x":17.1,"y":2.3,"e":0.6},{"x":17.2,"y":-0.2,"e":0.6},{"x":17.3,"y":-2.4,"e":0.6},{"x":17.5,"y":1.7,"e":0.6},{"x":17.5,"y":-1.6,"e":0.6},{"x":17.6,"y":0.75,"e":0.6},{"x":17.7,"y":-1.0,"e":0.6},{"x":17.8,"y":-2.8,"e":0.6},{"x":18.0,"y":0.15,"e":0.6},{"x":18.2,"y":1.1,"e":0.6},{"x":18.3,"y":-2.0,"e":0.6},{"x":18.4,"y":-0.4,"e":0.6},{"x":18.5,"y":-1.2,"e":0.6},{"x":18.7,"y":1.5,"e":0.6},{"x":18.8,"y":0.35,"e":0.6},{"x":18.9,"y":-2.6,"e":0.6},{"x":19.1,"y":2.1,"e":0.6},{"x":19.2,"y":3.9,"e":0.6},{"x":19.3,"y":-0.8,"e":0.6},{"x":19.4,"y":0.75,"e":0.6},{"x":19.6,"y":-1.6,"e":0.6},{"x":19.8,"y":1.5,"e":0.6},{"x":19.9,"y":0.0,"e":0.6},{"x":20.0,"y":-3.2,"e":0.6},{"x":20.1,"y":-1.0,"e":0.6},{"x":20.3,"y":0.95,"e":0.6},{"x":20.4,"y":-2.0,"e":0.6},{"x":20.5,"y":-0.4,"e":0.6},{"x":20.7,"y":2.3,"e":0.6},{"x":20.7,"y":-2.8,"e":0.6},{"x":20.8,"y":-3.8,"e":0.6},{"x":20.9,"y":0.35,"e":0.6},{"x":20.1,"y":-4.2,"e":0.6},{"x":20.9,"y":-1.6,"e":0.6}],
"r4":[{"x":-21.7,"y":0.55},{"x":-21.2,"y":0.55},{"x":-20.7,"y":0.54},{"x":-20.2,"y":0.54},{"x":-19.7,"y":0.53},{"x":-19.2,"y":0.53},{"x":-18.7,"y":0.52},{"x":-18.2,"y":0.52},{"x":-17.7,"y":0.51},{"x":-17.2,"y":0.51},{"x":-16.7,"y":0.5},{"x":-16.2,"y":0.5},{"x":-15.7,"y":0.5},{"x":-15.5,"y":0.49},{"x":-13.1,"y":0.45},{"x":-11.8,"y":0.43},{"x":-11.0,"y":0.42},{"x":-9.9,"y":0.41},{"x":-8.0,"y":0.38},{"x":-7.3,"y":0.37},{"x":-6.6,"y":0.36},{"x":-5.1,"y":0.33},{"x":-4.0,"y":0.3},{"x":-3.5,"y":0.29},{"x":-3.0,"y":0.28},{"x":-2.5,"y":0.27},{"x":-2.0,"y":0.26},{"x":-1.5,"y":0.25},{"x":-1.0,"y":0.24},{"x":-0.5,"y":0.23},{"x":0,"y":0.22},{"x":0.5,"y":0.2},{"x":1,"y":0.19},{"x":1.5,"y":0.18},{"x":2,"y":0.16},{"x":2.5,"y":0.15},{"x":3,"y":0.13},{"x":3.5,"y":0.12},{"x":4,"y":0.1},{"x":4.5,"y":0.08},{"x":5,"y":0.07},{"x":5.4,"y":0.06},{"x":5.9,"y":0.04},{"x":6.4,"y":0.03},{"x":6.9,"y":0.01},{"x":7.4,"y":0.0},{"x":7.9,"y":-0.02},{"x":8.4,"y":-0.03},{"x":8.9,"y":-0.05},{"x":9.4,"y":-0.06},{"x":9.9,"y":-0.08},{"x":10.4,"y":-0.09},{"x":10.9,"y":-0.11},{"x":11.4,"y":-0.12},{"x":11.9,"y":-0.14},{"x":12.4,"y":-0.15},{"x":12.9,"y":-0.17},{"x":13.4,"y":-0.18},{"x":13.9,"y":-0.2},{"x":14.4,"y":-0.21},{"x":15.0,"y":-0.23},{"x":16.1,"y":-0.3},{"x":16.6,"y":-0.33},{"x":17.1,"y":-0.36},{"x":17.6,"y":-0.39},{"x":18.1,"y":-0.42},{"x":18.6,"y":-0.45},{"x":19.1,"y":-0.48},{"x":19.6,"y":-0.51},{"x":20.1,"y":-0.54},{"x":20.6,"y":-0.57},{"x":21.1,"y":-0.6},{"x":21.2,"y":-0.61}]
},
"concat":[
{"title":"HD128621","width":373,"height":119,"resolve":{"axis":{"x":"independent","y":"independent"}},
 "layer":[
  {"data":{"name":"b1"},"mark":{"type":"errorbar","ticks":{"size":6},"color":"#3d3dff","thickness":1,"clip":true},
   "encoding":{"x":{"field":"x","type":"quantitative","scale":{"domain":[-30,30],"nice":false},"axis":{"orient":"top","labels":false,"title":null,"values":[-30,-20,-10,0,10,20,30]}},
    "y":{"field":"y","type":"quantitative","scale":{"domain":[-6,8],"nice":false},"axis":{"orient":"right","labels":false,"title":null,"values":[-6,-4,-2,0,2,4,6,8]}},
    "yError":{"field":"e"}}},
  {"data":{"name":"b1"},"mark":{"type":"square","size":12,"color":"#0000ff","opacity":1,"clip":true},
   "encoding":{"x":{"field":"x","type":"quantitative","axis":null},"y":{"field":"y","type":"quantitative","axis":null}}},
  {"data":{"name":"r1"},"mark":{"type":"circle","size":55,"color":"#ff0000","opacity":1,"clip":true},
   "encoding":{"x":{"field":"x","type":"quantitative","axis":{"orient":"bottom","labels":false,"title":null,"values":[-30,-20,-10,0,10,20,30]}},
    "y":{"field":"y","type":"quantitative","axis":{"orient":"left","title":"1-year RV signal [m/s]","titleY":129,"titleFontSize":14.5,"titlePadding":8,"values":[-6,-4,-2,0,2,4,6,8],"labelExpr":"replace(format(datum.value,'.1f'),'\u2212','-')"}}}}
 ]},
{"title":"HD1461","width":373,"height":119,"resolve":{"axis":{"x":"independent","y":"independent"}},
 "layer":[
  {"data":{"name":"b2"},"mark":{"type":"errorbar","ticks":{"size":6},"color":"#3d3dff","thickness":1,"clip":true},
   "encoding":{"x":{"field":"x","type":"quantitative","scale":{"domain":[-30,30],"nice":false},"axis":{"orient":"top","labels":false,"title":null,"values":[-30,-20,-10,0,10,20,30]}},
    "y":{"field":"y","type":"quantitative","scale":{"domain":[-6,8],"nice":false},"axis":{"orient":"right","labels":false,"title":null,"values":[-6,-4,-2,0,2,4,6,8]}},
    "yError":{"field":"e"}}},
  {"data":{"name":"b2"},"mark":{"type":"square","size":12,"color":"#0000ff","opacity":1,"clip":true},
   "encoding":{"x":{"field":"x","type":"quantitative","axis":null},"y":{"field":"y","type":"quantitative","axis":null}}},
  {"data":{"name":"r2"},"mark":{"type":"circle","size":55,"color":"#ff0000","opacity":1,"clip":true},
   "encoding":{"x":{"field":"x","type":"quantitative","axis":{"orient":"bottom","labels":false,"title":null,"values":[-30,-20,-10,0,10,20,30]}},
    "y":{"field":"y","type":"quantitative","axis":{"orient":"left","title":null,"values":[-6,-4,-2,0,2,4,6,8],"labelExpr":"replace(format(datum.value,'.1f'),'\u2212','-')"}}}}
 ]},
{"title":"HD154088","width":373,"height":119,"resolve":{"axis":{"x":"independent","y":"independent"}},
 "layer":[
  {"data":{"name":"b3"},"mark":{"type":"errorbar","ticks":{"size":6},"color":"#3d3dff","thickness":1,"clip":true},
   "encoding":{"x":{"field":"x","type":"quantitative","scale":{"domain":[-30,30],"nice":false},"axis":{"orient":"top","labels":false,"title":null,"values":[-30,-20,-10,0,10,20,30]}},
    "y":{"field":"y","type":"quantitative","scale":{"domain":[-6,8],"nice":false},"axis":{"orient":"right","labels":false,"title":null,"values":[-6,-4,-2,0,2,4,6,8]}},
    "yError":{"field":"e"}}},
  {"data":{"name":"b3"},"mark":{"type":"square","size":12,"color":"#0000ff","opacity":1,"clip":true},
   "encoding":{"x":{"field":"x","type":"quantitative","axis":null},"y":{"field":"y","type":"quantitative","axis":null}}},
  {"data":{"name":"r3"},"mark":{"type":"circle","size":55,"color":"#ff0000","opacity":1,"clip":true},
   "encoding":{"x":{"field":"x","type":"quantitative","axis":{"orient":"bottom","title":"BERV [km/s]","titlePadding":4,"values":[-30,-20,-10,0,10,20,30]}},
    "y":{"field":"y","type":"quantitative","axis":{"orient":"left","title":null,"values":[-6,-4,-2,0,2,4,6,8],"labelExpr":"replace(format(datum.value,'.1f'),'\u2212','-')"}}}}
 ]},
{"title":"HD31527","width":373,"height":119,"resolve":{"axis":{"x":"independent","y":"independent"}},
 "layer":[
  {"data":{"name":"b4"},"mark":{"type":"errorbar","ticks":{"size":6},"color":"#3d3dff","thickness":1,"clip":true},
   "encoding":{"x":{"field":"x","type":"quantitative","scale":{"domain":[-30,30],"nice":false},"axis":{"orient":"top","labels":false,"title":null,"values":[-30,-20,-10,0,10,20,30]}},
    "y":{"field":"y","type":"quantitative","scale":{"domain":[-6,8],"nice":false},"axis":{"orient":"right","labels":false,"title":null,"values":[-6,-4,-2,0,2,4,6,8]}},
    "yError":{"field":"e"}}},
  {"data":{"name":"b4"},"mark":{"type":"square","size":12,"color":"#0000ff","opacity":1,"clip":true},
   "encoding":{"x":{"field":"x","type":"quantitative","axis":null},"y":{"field":"y","type":"quantitative","axis":null}}},
  {"data":{"name":"r4"},"mark":{"type":"circle","size":55,"color":"#ff0000","opacity":1,"clip":true},
   "encoding":{"x":{"field":"x","type":"quantitative","axis":{"orient":"bottom","title":"BERV [km/s]","titlePadding":4,"values":[-30,-20,-10,0,10,20,30]}},
    "y":{"field":"y","type":"quantitative","axis":{"orient":"left","title":null,"values":[-6,-4,-2,0,2,4,6,8],"labelExpr":"replace(format(datum.value,'.1f'),'\u2212','-')"}}}}
 ]}
]
}
